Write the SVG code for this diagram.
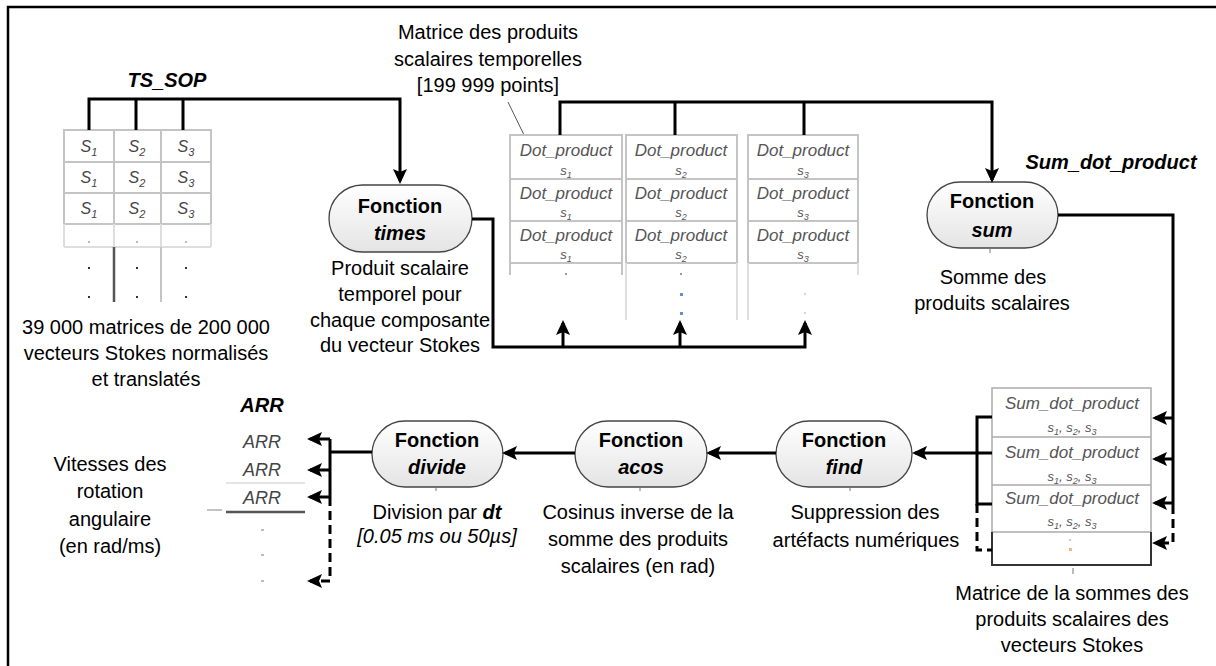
<svg xmlns="http://www.w3.org/2000/svg" width="1216" height="666" viewBox="0 0 1216 666">
<style>
text{font-family:"Liberation Sans",Arial,sans-serif;fill:#000}
.d{font-size:20px;text-anchor:middle}
.lbl{font-size:20px;font-weight:bold;font-style:italic;text-anchor:middle}
.fn{font-size:20px;font-weight:bold;text-anchor:middle}
.fi{font-size:20px;font-weight:bold;font-style:italic;text-anchor:middle}
.cell{font-size:17px;font-style:italic;fill:#555;text-anchor:middle}
.sub{font-size:13px;font-style:italic;fill:#555;text-anchor:middle}
.s{font-size:16px;font-style:italic;fill:#444;text-anchor:middle}
.arr{font-size:18px;font-style:italic;fill:#444;text-anchor:middle}
.pill{fill:url(#pg);stroke:#444;stroke-width:1.3}
.grid{fill:#fff;stroke:#c4c4c4;stroke-width:2}
.gl{stroke:#c4c4c4;stroke-width:2;fill:none}
.faint{stroke:#dedede;stroke-width:2;fill:none}
.c{fill:none;stroke:#000;stroke-width:3}
.a{marker-end:url(#ah)}
.dash{stroke-dasharray:9 5}
.tick{stroke:#777;stroke-width:1}
.dot{fill:#bbb}
</style>
<defs>
<linearGradient id="pg" x1="0" y1="0" x2="0" y2="1">
<stop offset="0" stop-color="#ffffff"/>
<stop offset="1" stop-color="#e4e4e4"/>
</linearGradient>
<marker id="ah" markerUnits="userSpaceOnUse" markerWidth="15" markerHeight="14" refX="12" refY="7" orient="auto">
<path d="M0,0 L15,7 L0,14 L3,7 z" fill="#000"/>
</marker>
</defs>

<rect x="8" y="7" width="1230" height="680" fill="#fff" stroke="#000" stroke-width="2.5"/>

<!-- Left input table -->
<g id="ts_sop">
<text class="lbl" x="167" y="87">TS_SOP</text>
<rect class="grid" x="64" y="130" width="147" height="94"/>
<path class="gl" d="M114,130 V224 M161,130 V224 M64,162 H211 M64,193 H211"/>
<path class="faint" d="M64,224 V247 M114,224 V247 M161,224 V247 M211,224 V247 M64,247 H211"/>
<path d="M114,247 V302" stroke="#555" stroke-width="2.5"/>
<path d="M161,247 V302" stroke="#c4c4c4" stroke-width="2"/>
<text class="s" x="89" y="152">S<tspan font-size="11" dy="4">1</tspan></text>
<text class="s" x="137" y="152">S<tspan font-size="11" dy="4">2</tspan></text>
<text class="s" x="186" y="152">S<tspan font-size="11" dy="4">3</tspan></text>
<text class="s" x="89" y="183">S<tspan font-size="11" dy="4">1</tspan></text>
<text class="s" x="137" y="183">S<tspan font-size="11" dy="4">2</tspan></text>
<text class="s" x="186" y="183">S<tspan font-size="11" dy="4">3</tspan></text>
<text class="s" x="89" y="214">S<tspan font-size="11" dy="4">1</tspan></text>
<text class="s" x="137" y="214">S<tspan font-size="11" dy="4">2</tspan></text>
<text class="s" x="186" y="214">S<tspan font-size="11" dy="4">3</tspan></text>
<rect class="dot" x="88" y="241" width="2" height="2"/>
<rect class="dot" x="136" y="241" width="2" height="2"/>
<rect class="dot" x="185" y="241" width="2" height="2"/>
<rect x="88" y="267" width="2" height="2" fill="#333"/>
<rect x="136" y="267" width="2" height="2" fill="#333"/>
<rect x="185" y="267" width="2" height="2" fill="#333"/>
<rect x="88" y="296" width="2" height="2" fill="#333"/>
<rect x="136" y="296" width="2" height="2" fill="#333"/>
<rect x="185" y="296" width="2" height="2" fill="#333"/>
<text class="d" x="146" y="334">39 000 matrices de 200 000</text>
<text class="d" x="146" y="360">vecteurs Stokes normalisés</text>
<text class="d" x="146" y="386">et translatés</text>
</g>

<!-- Fonction times -->
<g id="times">
<rect class="pill" x="329" y="185" width="143" height="67" rx="33.5"/>
<text class="fn" x="400" y="213">Fonction</text>
<text class="fi" x="400" y="240">times</text>
<text class="d" x="400" y="275">Produit scalaire</text>
<text class="d" x="400" y="301">temporel pour</text>
<text class="d" x="400" y="327">chaque composante</text>
<text class="d" x="400" y="352">du vecteur Stokes</text>
</g>

<!-- Dot product matrix -->
<g id="dot_matrix">
<text class="d" x="488" y="39">Matrice des produits</text>
<text class="d" x="488" y="66">scalaires temporelles</text>
<text class="d" x="488" y="92">[199 999 points]</text>
<line x1="508" y1="102" x2="524" y2="135" stroke="#555" stroke-width="1"/>
<rect class="grid" x="510" y="135" width="112" height="128"/>
<path class="gl" d="M510,179 H622 M510,221 H622 M510,263 V275 M622,263 V275"/>
<rect class="grid" x="626" y="135" width="111" height="128"/>
<path class="gl" d="M626,179 H737 M626,221 H737"/>
<path class="faint" d="M626,263 V320 M737,263 V320"/>
<rect class="grid" x="748" y="135" width="110" height="128"/>
<path class="gl" d="M748,179 H858 M748,221 H858"/>
<path class="faint" d="M748,263 V320 M858,263 V275"/>
<text class="cell" x="566" y="156">Dot_product</text>
<text class="sub" x="566" y="175">s<tspan font-size="9" dy="3">1</tspan></text>
<text class="cell" x="566" y="199">Dot_product</text>
<text class="sub" x="566" y="217">s<tspan font-size="9" dy="3">1</tspan></text>
<text class="cell" x="566" y="241">Dot_product</text>
<text class="sub" x="566" y="259">s<tspan font-size="9" dy="3">1</tspan></text>
<text class="cell" x="681" y="156">Dot_product</text>
<text class="sub" x="681" y="175">s<tspan font-size="9" dy="3">2</tspan></text>
<text class="cell" x="681" y="199">Dot_product</text>
<text class="sub" x="681" y="217">s<tspan font-size="9" dy="3">2</tspan></text>
<text class="cell" x="681" y="241">Dot_product</text>
<text class="sub" x="681" y="259">s<tspan font-size="9" dy="3">2</tspan></text>
<text class="cell" x="803" y="156">Dot_product</text>
<text class="sub" x="803" y="175">s<tspan font-size="9" dy="3">3</tspan></text>
<text class="cell" x="803" y="199">Dot_product</text>
<text class="sub" x="803" y="217">s<tspan font-size="9" dy="3">3</tspan></text>
<text class="cell" x="803" y="241">Dot_product</text>
<text class="sub" x="803" y="259">s<tspan font-size="9" dy="3">3</tspan></text>
<rect x="565" y="273" width="2" height="2" fill="#999"/>
<rect x="680" y="273" width="2" height="2" fill="#999"/>
<rect x="680" y="293" width="3" height="3" fill="#5b8fd6"/>
<rect x="680" y="312" width="3" height="3" fill="#5b8fd6"/>
<rect x="804" y="293" width="2" height="2" fill="#cfd9ea"/>
<rect x="804" y="312" width="2" height="2" fill="#cfd9ea"/>
</g>

<!-- Fonction sum -->
<g id="sum">
<text class="lbl" x="1111" y="169">Sum_dot_product</text>
<rect class="pill" x="927" y="182" width="131" height="66" rx="33"/>
<text class="fn" x="992" y="208">Fonction</text>
<text class="fi" x="992" y="237">sum</text>
<line class="tick" x1="990" y1="248" x2="990" y2="253"/>
<text class="d" x="993" y="284">Somme des</text>
<text class="d" x="992" y="310">produits scalaires</text>
</g>

<!-- Sum matrix -->
<g id="sum_matrix">
<rect x="992" y="388" width="159" height="177" fill="#fff" stroke="#aaa" stroke-width="1.5"/>
<path d="M992,437 H1151 M992,485 H1151 M992,532 H1151" stroke="#aaa" stroke-width="1.5"/>
<path d="M992,532 V565 H1151 V532" fill="none" stroke="#333" stroke-width="2"/>
<text class="cell" x="1072" y="409">Sum_dot_product</text>
<text class="sub" x="1072" y="432">s<tspan font-size="9" dy="3">1</tspan><tspan dy="-3">, s</tspan><tspan font-size="9" dy="3">2</tspan><tspan dy="-3">, s</tspan><tspan font-size="9" dy="3">3</tspan></text>
<text class="cell" x="1072" y="458">Sum_dot_product</text>
<text class="sub" x="1072" y="481">s<tspan font-size="9" dy="3">1</tspan><tspan dy="-3">, s</tspan><tspan font-size="9" dy="3">2</tspan><tspan dy="-3">, s</tspan><tspan font-size="9" dy="3">3</tspan></text>
<text class="cell" x="1072" y="504">Sum_dot_product</text>
<text class="sub" x="1072" y="526">s<tspan font-size="9" dy="3">1</tspan><tspan dy="-3">, s</tspan><tspan font-size="9" dy="3">2</tspan><tspan dy="-3">, s</tspan><tspan font-size="9" dy="3">3</tspan></text>
<rect x="1069" y="539" width="2" height="2" fill="#ccc"/>
<rect x="1069" y="548" width="3" height="3" fill="#e8b890"/>
<line class="tick" x1="1073" y1="568" x2="1073" y2="574"/>
<text class="d" x="1072" y="600">Matrice de la sommes des</text>
<text class="d" x="1072" y="626">produits scalaires des</text>
<text class="d" x="1072" y="652">vecteurs Stokes</text>
</g>

<!-- Fonction find -->
<g id="find">
<rect class="pill" x="776" y="421" width="136" height="66" rx="33"/>
<text class="fn" x="844" y="447">Fonction</text>
<text class="fi" x="844" y="474">find</text>
<line class="tick" x1="850" y1="487" x2="850" y2="491"/>
<text class="d" x="865" y="519">Suppression des</text>
<text class="d" x="866" y="547">artéfacts numériques</text>
</g>

<!-- Fonction acos -->
<g id="acos">
<rect class="pill" x="575" y="421" width="132" height="66" rx="33"/>
<text class="fn" x="641" y="447">Fonction</text>
<text class="fi" x="641" y="474">acos</text>
<line class="tick" x1="640" y1="487" x2="640" y2="491"/>
<text class="d" x="638" y="519">Cosinus inverse de la</text>
<text class="d" x="638" y="546">somme des produits</text>
<text class="d" x="638" y="573">scalaires (en rad)</text>
</g>

<!-- Fonction divide -->
<g id="divide">
<rect class="pill" x="372" y="421" width="131" height="66" rx="33"/>
<text class="fn" x="437" y="447">Fonction</text>
<text class="fi" x="437" y="474">divide</text>
<line class="tick" x1="436" y1="487" x2="436" y2="491"/>
<text class="d" x="437" y="519">Division par <tspan font-weight="bold" font-style="italic">dt</tspan></text>
<text class="d" x="437" y="543" font-style="italic">[0.05 ms ou 50µs]</text>
</g>

<!-- ARR output -->
<g id="arr">
<text class="lbl" x="262" y="412">ARR</text>
<text class="arr" x="262" y="448">ARR</text>
<text class="arr" x="262" y="476">ARR</text>
<line x1="226" y1="483" x2="305" y2="483" stroke="#e4e4e4" stroke-width="2"/>
<text class="arr" x="262" y="504">ARR</text>
<line x1="226" y1="512" x2="305" y2="512" stroke="#555" stroke-width="2.5"/>
<line x1="207" y1="510" x2="222" y2="510" stroke="#888" stroke-width="1"/>
<rect class="dot" x="261" y="529" width="3" height="2"/>
<rect class="dot" x="261" y="554" width="3" height="2"/>
<rect class="dot" x="261" y="580" width="3" height="2"/>
<text class="d" x="110" y="471">Vitesses des</text>
<text class="d" x="110" y="498">rotation</text>
<text class="d" x="110" y="526">angulaire</text>
<text class="d" x="110" y="553">(en rad/ms)</text>
</g>

<!-- Connectors -->
<g id="connectors">
<path class="c a" d="M89,130 V99 H400 V181"/>
<path class="c" d="M136,99 V130 M183,99 V130"/>
<path class="c a" d="M560,135 V102 H992 V180"/>
<path class="c" d="M675,102 V135 M804,102 V135"/>
<path class="c a" d="M472,219 H493 V347 H805 V323"/>
<path class="c a" d="M563,347 V323"/>
<path class="c a" d="M680,347 V323"/>
<path class="c" d="M1058,215 H1173 V505"/>
<path class="c a" d="M1173,418 H1155"/>
<path class="c a" d="M1173,459 H1155"/>
<path class="c a" d="M1173,503 H1155"/>
<path class="c a dash" d="M1173,505 V543 H1155"/>
<path class="c" d="M992,417 H977 V504 H992"/>
<path class="c a" d="M992,453 H915"/>
<path class="c dash" d="M977,504 V550 H992"/>
<path class="c a" d="M776,453 H709"/>
<path class="c a" d="M575,453 H505"/>
<path class="c" d="M372,452 H330 M330,439 V497"/>
<path class="c a" d="M330,439 H310"/>
<path class="c a" d="M330,470 H310"/>
<path class="c a" d="M330,497 H310"/>
<path class="c a dash" d="M330,497 V581 H310"/>
</g>
</svg>
